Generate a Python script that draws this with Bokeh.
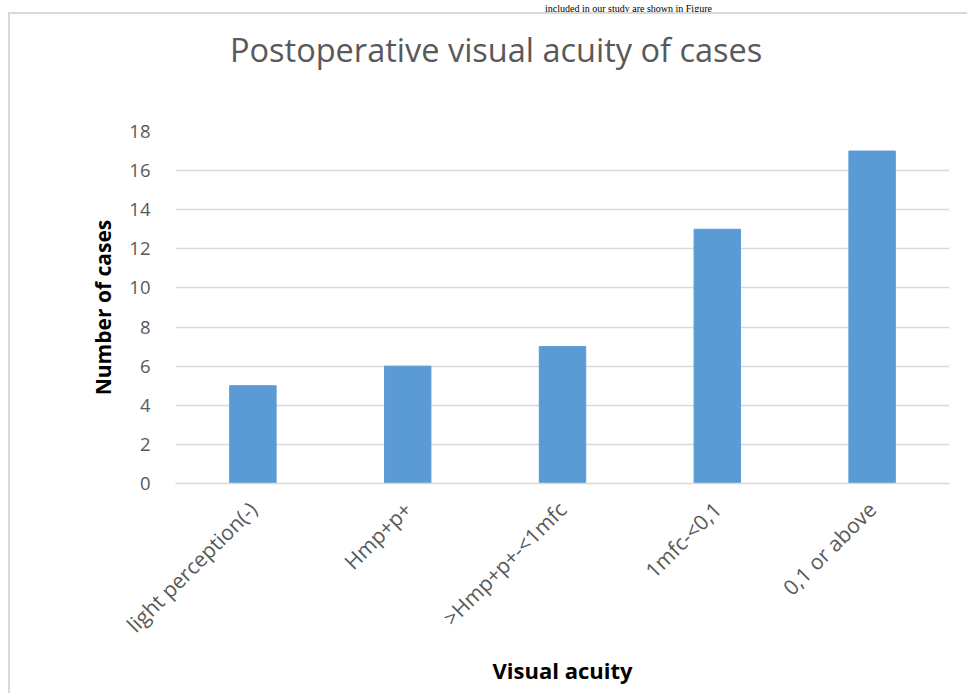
from bokeh.plotting import figure
from bokeh.models import ColumnDataSource, FixedTicker, Div
from bokeh.layouts import column
from bokeh.embed import file_html
from bokeh.resources import INLINE

categories = ["light perception(-)", "Hmp+p+", ">Hmp+p+-<1mfc", "1mfc-<0,1", "0,1 or above"]
counts = [5, 6, 7, 13, 17]
y_ticks = [0, 2, 4, 6, 8, 10, 12, 14, 16, 18]

title_text = "Postoperative visual acuity of cases"
x_title = "Visual acuity"
y_title = "Number of cases"
doc_text = "included in our study are shown in Figure"

FONT = "Open Sans"
GRAY = "#595959"
GRID = "#d9d9d9"

head = Div(
    text=('<div style="margin-left:545px; white-space:nowrap; '
          'font-family:\'Liberation Serif\'; font-size:10px; line-height:12px; color:#000;">'
          + doc_text + '</div>'),
    width=967, height=12, margin=0,
)

title_div = Div(
    text=('<div style="padding-top:20px; padding-left:220px; white-space:nowrap; '
          'font-family:\'Open Sans\'; font-size:32.5px; line-height:32.5px; color:' + GRAY + ';">'
          + title_text + '</div>'),
    width=957, height=60, margin=0,
)

p = figure(
    x_range=categories, y_range=(0, 18),
    width=957, height=619,
    output_backend="svg", toolbar_location=None,
    min_border_left=165, min_border_right=18,
    min_border_top=57, min_border_bottom=210,
    margin=0,
)

src = ColumnDataSource(dict(cat=categories, n=counts))
p.vbar(x="cat", top="n", width=0.30, source=src, color="#5B9BD5", line_color="#5B9BD5")

p.outline_line_color = None
p.xgrid.grid_line_color = None
p.ygrid.grid_line_color = GRID
p.ygrid.grid_line_width = 1.5

p.yaxis.ticker = FixedTicker(ticks=y_ticks)
p.yaxis.axis_line_color = None
p.yaxis.major_tick_line_color = None
p.yaxis.minor_tick_line_color = None
p.yaxis.major_label_text_font = FONT
p.yaxis.major_label_text_font_size = "18.5px"
p.yaxis.major_label_text_color = GRAY
p.yaxis.major_label_standoff = 19
p.yaxis.axis_label = y_title
p.yaxis.axis_label_text_font = FONT
p.yaxis.axis_label_text_font_size = "21px"
p.yaxis.axis_label_text_font_style = "bold"
p.yaxis.axis_label_text_color = "black"
p.yaxis.axis_label_standoff = 9

p.xaxis.axis_line_color = GRID
p.xaxis.axis_line_width = 1.5
p.xaxis.major_tick_line_color = None
p.xaxis.minor_tick_line_color = None
p.xaxis.major_label_orientation = 0.785398
p.xaxis.major_label_text_font = FONT
p.xaxis.major_label_text_font_size = "21px"
p.xaxis.major_label_text_color = GRAY
p.xaxis.major_label_standoff = 16
p.xaxis.axis_label = x_title
p.xaxis.axis_label_text_font = FONT
p.xaxis.axis_label_text_font_size = "22px"
p.xaxis.axis_label_text_font_style = "bold"
p.xaxis.axis_label_text_color = "black"
p.xaxis.axis_label_standoff = 4

chart = column(
    title_div, p, spacing=0, margin=0,
    styles={"margin-left": "8px",
            "border-left": "2px solid #d9d9d9", "border-top": "2px solid #d9d9d9"},
)
layout = column(head, chart, spacing=0, margin=0)
open("out.html", "w").write(file_html(layout, INLINE))
